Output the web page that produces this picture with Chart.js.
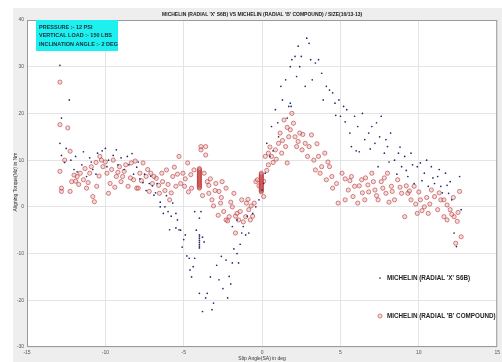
<!DOCTYPE html>
<html>
<head>
<meta charset="utf-8">
<script src="https://cdn.jsdelivr.net/npm/chart.js@4/dist/chart.umd.min.js"></script>
<style>
  html, body { margin: 0; padding: 0; background: #ffffff; }
  #wrap { width: 502px; height: 362px; }
</style>
</head>
<body>
<div id="wrap"><canvas id="mzChart" width="502" height="362"></canvas></div>
<script>
// Chart texts
const chartTitle = "MICHELIN (RADIAL 'X' S6B) VS MICHELIN (RADIAL 'B' COMPOUND) / SIZE(16/13-13)";
const xTitle = "Slip Angle(SA) in deg";
const yTitle = "Aligning Torque(Mz) in Nm";
const seriesLabels = ["MICHELIN (RADIAL 'X' S6B)", "MICHELIN (RADIAL 'B' COMPOUND)"];
const testConditions = ["PRESSURE :- 12 PSI", "VERTICAL LOAD :- 150 LBS", "INCLINATION ANGLE :- 2 DEG"];

// Axis ticks
const xTicks = [-15, -10, -5, 0, 5, 10, 15];
const yTicks = [-30, -20, -10, 0, 10, 20, 30, 40];

// Series 1: RADIAL 'X' S6B (slip angle, torque)
const slipX = [
  -12.9, -12.8, -12.3, -12.9, -12.8, -12.5, -12.2, -12, -12.6, -11.8,
  -11.5, -11.2, -11, -10.8, -10.5, -10.2, -10, -9.8, -9.5, -9.2,
  -9, -8.8, -8.5, -8.2, -8, -7.8, -7.5, -7.2, -7, -7.4,
  -6.9, -6.8, -6.5, -6.5, -6.3, -6.2, -6, -5.9, -5.8, -5.5,
  -5.5, -5.3, -5.2, -5, -4.8, -4.65, -4.6, -4.5, -4.4, -4.3,
  -4.2, -4.3, -4, -3.9, -4, -4, -4, -4, -4, -4,
  -4, -4, -3.8, -3.7, -4, -3.8, -3.5, -3.6, -3.2, -3.1,
  -3.3, -2.9, -2.75, -2.6, -2.5, -2.3, -2.2, -2.1, -2.0, -1.9,
  -1.8, -1.6, -1.5, -1.4, -1.3, -1.2, -1.9, -1.6, -1.05, -0.95,
  -0.85, -0.6, -0.4, -0.2, 0, 0.1, 0.2, 0.3, 0.5, 0.6,
  0.85, 1.05, 1.2, 1.3, 1.5, 1.7, 1.8, 1.9, 2.1, 2.2,
  2.3, 2.4, 2.5, 2.75, 2.85, 3.0, 3.1, 3.2, 3.4, 3.6,
  3.8, 3.9, 4.1, 4.3, 4.5, 4.65, 4.9, 5.0, 5.2, 5.4,
  5.6, 5.7, 5.9, 6.1, 6.4, 6.55, 6.8, 7.0, 7.2, 7.4,
  7.5, 7.6, 7.8, 8.0, 8.2, 8.45, 8.7, 8.9, 9.1, 9.3,
  9.5, 9.7, 9.9, 10.1, 10.35, 10.6, 10.8, 11.0, 11.2, 11.4,
  11.7, 11.9, 12.1, 12.25, 12.4, 12.6, 12.7, 1.6, 1.8, 1.85,
  0.7, 1.0, 6.0, 8.6, 9.6, 10.5, 11.5,
  -11.9, -11.4, -10.9, -10.6, -9.9, -9.3, -8.6, -8.3, -7.9, -7.6,
  -7.1, -6.7, -6.1, -5.7, -5.4, -5.1, -4.9,
  6.9, 7.3, 7.9, 8.1, 8.8, 9.2, 10.2, 10.9, 11.3, 11.8,
  12.0, 5.3, 4.7, 6.2
];
const torqueX = [
  30.3, 19, 22.9, 13.6, 11, 12.5, 10, 8, 9.5, 7.5,
  9, 6.5, 10.5, 8, 11.5, 12, 12.5, 10, 11, 9,
  10.5, 8, 9, 7, 8.5, 6, 7, 5, 4.5, 3.5,
  2.5, 3, 1, 0, -1.4, 0, -1, -4.9, -2, -1.4,
  -4.5, -4.9, -5, -7, -10.5, -11, -13.5, -15, -12.8, -11,
  -5, -1, -2.4, -1, -6, -6.4, -6.8, -7.2, -7.6, -8,
  -8.4, -8.8, -6.5, -7.5, -18.5, -22.4, -18.5, -19.5, -22, -20.6,
  -15, -12.5, -15.6, -10.6, -17.5, -11.4, -19.5, -14.9, -16.5, -12,
  -9, -10, -12, -8, -5.6, -4.2, -4.2, -2.8, -6, -2,
  -5.6, -1.4, 0, 1.5, 3.6, 5, 7.2, 13.6, 10.8, 17.2,
  20.8, 15, 25.8, 22.9, 27.2, 21.5, 30, 31.5, 32.2, 27.9,
  34.4, 30, 32.2, 25.8, 36.1, 35, 31.5, 27.2, 30.8, 31.5,
  28.6, 22.9, 25.8, 25, 24.4, 22.2, 22.9, 19.4, 21.5, 20.8,
  15.8, 12.9, 19.4, 17.2, 20, 14.4, 15.8, 17.2, 13.6, 8.6,
  15, 19.4, 11.5, 12.9, 15.8, 10, 11.5, 8.6, 10.8, 6.5,
  11.5, 5, 8.6, 9.4, 7.2, 4.4, 8.6, 5, 6.5, 4.4,
  7.2, 2.9, 1.5, -5.6, -8.5, 6.5, -0.6, 19, 22.2, 21.5,
  12, 18, 12, 7, 9, 10, 3,
  10.8, 11.8, 9.6, 7.0, 8.6, 12.2, 10.8, 11.4, 9.6, 5.2,
  6.6, 5.0, 2.4, 0.8, -2.8, -8.6, -6.0,
  12.4, 18.0, 14.4, 9.6, 12.8, 7.8, 5.6, 6.2, 8.0, 4.6,
  5.4, 18.2, 19.6, 11.8
];

// Series 2: RADIAL 'B' COMPOUND (slip angle, torque)
const slipB = [
  -12.9, -12.9, -12.4, -12.9, -12.8, -12.8, -12.6, -12.25, -12.25, -12.15,
  -11.8, -11.6, -11.4, -11.2, -11, -10.9, -10.8, -10.7, -10.55, -10.35,
  -10.25, -10.15, -9.9, -9.8, -9.7, -9.5, -9.3, -9.1, -9.0, -8.8,
  -8.55, -8.35, -8.2, -8.0, -7.8, -7.6, -7.4, -7.2, -7.0, -6.75,
  -6.55, -6.35, -6.1, -5.9, -5.7, -5.5, -5.3, -5.05, -4.95, -4.75,
  -4.55, -4.35, -3.9, -3.9, -3.6, -3.6, -3.7, -3.5, -3.4,
  -3.2, -2.95, -2.75, -2.65, -2.55, -2.45, -2.3, -2.1, -1.9, -1.8,
  -1.7, -1.6, -1.5, -1.3, -1.05, -0.85, -0.75, -0.5, -0.4, -0.3,
  0.1, 0.2, 0.4, 0.6, 0.85, 1.05, 1.15, 1.4, 1.5, 1.6,
  1.7, 1.9, 2.0, 2.1, 2.2, 2.4, 2.55, 2.75, 3.0, 3.15,
  3.3, 3.4, 3.6, 3.8, 4.0, 4.1, 4.3, 4.45, 4.75, 4.85,
  5.1, 5.3, 5.5, 5.7, 5.9, 6.1, 6.35, 6.55, 6.75, 7.0,
  7.2, 7.4, 7.6, 7.9, 8.0, 8.25, 8.45, 8.65, 8.9, 9.1,
  9.3, 9.5, 9.7, 9.9, 10.1, 10.35, 10.6, 10.8, 11.0, 11.2,
  11.4, 11.6, 11.8, 12.0, 12.25, 12.45, 12.6, 12.7, 12.35, -11.9,
  -10.6, -9.6, -8.9, -8.1, -7.9, -6.9, -6.2, -5.6, -5.2, -4.5,
  -3.3, -3.0, -2.3, -2.0, -1.4, -1.0, -0.6, -0.2, 0.1, 0.4,
  0.7, 1.25, 1.8, 2.6, 3.5, 4.2, 5.3, 6.2, 6.8, 7.7,
  8.3, 9.2, 10.0, 10.5, 11.6, 12.2,
  -12.0, -11.7, -11.3, -11.1, -10.4, -10.0, -9.4, -9.2, -8.7, -8.4,
  -7.7, -7.3, -7.1, -6.6, -6.4, -6.0, -5.8, -5.4, -4.9, -4.7,
  -3.8, -3.4, -3.1, -2.8, -2.6, -2.2, -1.7, -1.2, -0.9, -0.7,
  5.6, 5.8, 6.4, 6.6, 7.1, 7.3, 7.8, 8.1, 8.8, 9.4,
  9.8, 10.2, 10.7, 11.3, 11.8, 12.1, 12.5,
  0.3, 0.5, 0.9, 1.3, 1.6, 2.3, 2.9, 3.7, 4.5,
  // measurement stack at -4 deg
  -4, -4, -4, -4, -4, -4, -4, -4, -4, -4, -4,
  -4, -4, -4, -4, -4, -4, -4, -4, -4, -4, -4,
  // measurement stack at 0 deg
  -0.05, -0.05, -0.05, -0.05, -0.05, -0.05, -0.05, -0.05, -0.05, -0.05, -0.05,
  -0.05, -0.05, -0.05, -0.05, -0.05, -0.05, -0.05, -0.05, -0.05, -0.05
];
const torqueB = [
  26.7, 17.6, 16.9, 7.6, 4, 3.3, 10, 11.9, 3.3, 5.4,
  6.5, 7.2, 5.8, 4, 7.2, 8.6, 2.2, 1.1, 4.4, 10.8,
  10, 8.6, 7.2, 2.9, 5, 10, 6.5, 8.6, 5.4, 7.6,
  4.4, 9.4, 5.8, 4, 7.2, 9.4, 6.5, 3.3, 5, 6.1,
  2.9, 5.4, 7.9, 1.5, 6.5, 4.4, 10.8, 7.2, 4.4, 9.4,
  6.9, 7.9, 12.9, 12.2, 12.9, 11.1, 7.2, 5.4, 2.9,
  1.5, 5, 3.3, 0.8, 5.4, -1, -2.8, -2.1, 0, 2.9,
  -5.6, -1.4, -2.8, 1.5, -2.1, -0.6, -2.8, 0.8, 5.4, 5.8,
  2.2, 10.8, 9, 10.8, 12.2, 13.6, 15.8, 18.6, 12.9, 9.4,
  15, 20, 17.9, 15, 12.9, 15.8, 12.2, 13.6, 12.9, 15.4,
  10, 7.9, 10.8, 8.6, 11.5, 5.8, 8.6, 6.5, 5, 0.8,
  7.2, 1.5, 3.6, 6.5, 4.4, 0.8, 5.8, 1.5, 4.7, 7.2,
  3.6, 1.5, 5.4, 2.9, 7.2, 4.4, 1.5, 5.8, 2.9, -2.1,
  2.9, 1.5, 4.4, -1.4, 1.5, 0, -1.4, 3.6, 2.2, -0.6,
  1.5, -2.1, -2.8, -0.6, -2.1, -3.1, 3.3, -6.4, -7.8, 5.5,
  9.5, 8, 6.5, 9.8, 4, 6.5, 3.5, 8.5, 5, 4,
  6, 3.5, 4, 1, -1, 0.8, -2, 4.5, 5.5, 11.5,
  9.5, 11.5, 16.5, 15.5, 13.5, 9.6, 6, 4.5, 3.2, 4,
  3.3, 4.5, 3.2, 2, 1.5, 2,
  6.8, 4.8, 8.2, 5.2, 6.6, 9.6, 4.2, 7.4, 9.0, 6.2,
  5.6, 8.0, 7.2, 4.6, 7.2, 4.8, 3.0, 7.0, 6.0, 3.2,
  2.4, 4.6, 0.2, -1.8, 2.0, -3.0, -2.0, -3.2, 1.6, 0.2,
  5.6, 2.2, 3.0, 6.2, 5.4, 2.4, 6.2, 1.0, 4.2, 3.4,
  0.6, -0.8, 0.6, 3.0, 0.4, -1.6, -1.2,
  7.8, 12.8, 10.2, 14.2, 17.0, 14.0, 10.8, 7.2, 4.0,
  4.0, 4.2, 4.4, 4.6, 4.8, 5.0, 5.2, 5.4, 5.6, 5.8, 6.0,
  6.2, 6.4, 6.6, 6.8, 7.0, 7.2, 7.4, 7.6, 7.8, 8.0, 8.2,
  3.2, 3.4, 3.6, 3.8, 4.0, 4.2, 4.4, 4.6, 4.8, 5.0, 5.2,
  5.4, 5.6, 5.8, 6.0, 6.2, 6.4, 6.6, 6.8, 7.0, 7.2
];

const FIG_GREY = '#eeeeee';
const NARROW = '"Liberation Sans Narrow", "Liberation Sans", Arial, sans-serif';

function toPoints(xs, ys) {
    return xs.map((x, i) => ({ x: x, y: ys[i] }));
}

// Background, frame, annotation box, titles and legend (MATLAB style figure)
const figurePlugin = {
    id: 'figurePlugin',
    beforeDraw(chart) {
        const ctx = chart.ctx;
        const a = chart.chartArea;
        ctx.save();
        ctx.fillStyle = '#ffffff';
        ctx.fillRect(0, 0, chart.width, chart.height);
        ctx.fillStyle = FIG_GREY;
        ctx.fillRect(13, 8, chart.width - 13, chart.height - 8);
        ctx.fillStyle = '#ffffff';
        ctx.fillRect(a.left, a.top, a.right - a.left, a.bottom - a.top);
        ctx.restore();
    },
    afterDraw(chart) {
        const ctx = chart.ctx;
        const a = chart.chartArea;
        ctx.save();

        // plot box
        ctx.strokeStyle = '#9a9a9a';
        ctx.lineWidth = 1;
        ctx.strokeRect(a.left + 0.5, a.top + 0.5, a.right - a.left - 1, a.bottom - a.top - 1);

        // title
        ctx.fillStyle = '#222222';
        ctx.font = 'bold 5px ' + NARROW;
        ctx.textAlign = 'center';
        ctx.textBaseline = 'middle';
        ctx.fillText(chartTitle, (a.left + a.right) / 2, 15);

        // axis titles
        ctx.font = '5px ' + NARROW;
        ctx.fillStyle = '#333333';
        ctx.fillText(xTitle, (a.left + a.right) / 2, 359);
        ctx.save();
        ctx.translate(16, 182);
        ctx.rotate(-Math.PI / 2);
        ctx.fillText(yTitle, 0, 0);
        ctx.restore();

        // test conditions box
        ctx.fillStyle = '#1ef0f0';
        ctx.fillRect(36, 20, 82, 31);
        ctx.fillStyle = '#1a2a3a';
        ctx.font = 'bold 5.5px ' + NARROW;
        ctx.textAlign = 'left';
        testConditions.forEach((line, i) => {
            ctx.fillText(line, 39, 27 + i * 8.7);
        });

        // legend
        const ds = chart.data.datasets;
        const rows = [278, 316];
        ctx.font = 'bold 6.3px ' + NARROW;
        ds.forEach((d, i) => {
            const y = rows[i];
            ctx.beginPath();
            ctx.arc(380, y, d.pointRadius, 0, Math.PI * 2);
            ctx.fillStyle = d.backgroundColor;
            ctx.fill();
            if (d.borderWidth) {
                ctx.strokeStyle = d.borderColor;
                ctx.lineWidth = d.borderWidth;
                ctx.stroke();
            }
            ctx.fillStyle = '#222222';
            ctx.fillText(d.label, 387, y);
        });
        ctx.restore();
    }
};

const ctx = document.getElementById('mzChart').getContext('2d');

window.mzChart = new Chart(ctx, {
    type: 'scatter',
    data: {
        datasets: [
            {
                label: seriesLabels[0],
                data: toPoints(slipX, torqueX),
                pointRadius: 0.85,
                pointStyle: 'circle',
                backgroundColor: '#232a6e',
                borderColor: '#232a6e',
                borderWidth: 0
            },
            {
                label: seriesLabels[1],
                data: toPoints(slipB, torqueB),
                pointRadius: 2.1,
                pointStyle: 'circle',
                backgroundColor: 'rgba(190, 165, 165, 0.35)',
                borderColor: 'rgba(205, 45, 45, 0.75)',
                borderWidth: 0.8
            }
        ]
    },
    options: {
        responsive: false,
        animation: false,
        layout: {
            padding: { left: 13, top: 20, right: 2, bottom: 0 }
        },
        scales: {
            x: {
                type: 'linear',
                min: -15,
                max: 15,
                afterBuildTicks: (scale) => { scale.ticks = xTicks.map(v => ({ value: v })); },
                afterFit: (scale) => {
                    scale.height = 15;
                    scale.paddingLeft = 0;
                    scale.paddingRight = 0;
                },
                grid: { color: '#e4e4e4', drawTicks: false },
                border: { display: false },
                ticks: {
                    font: { size: 5, family: NARROW },
                    color: '#555555',
                    padding: 3,
                    maxRotation: 0
                }
            },
            y: {
                type: 'linear',
                min: -30,
                max: 40,
                afterBuildTicks: (scale) => { scale.ticks = yTicks.map(v => ({ value: v })); },
                afterFit: (scale) => {
                    scale.width = 14;
                    scale.paddingTop = 0;
                    scale.paddingBottom = 0;
                },
                grid: { color: '#e4e4e4', drawTicks: false },
                border: { display: false },
                ticks: {
                    font: { size: 5, family: NARROW },
                    color: '#555555',
                    padding: 3
                }
            }
        },
        plugins: {
            legend: { display: false },
            tooltip: { enabled: false },
            title: { display: false }
        }
    },
    plugins: [figurePlugin]
});
</script>
</body>
</html>
